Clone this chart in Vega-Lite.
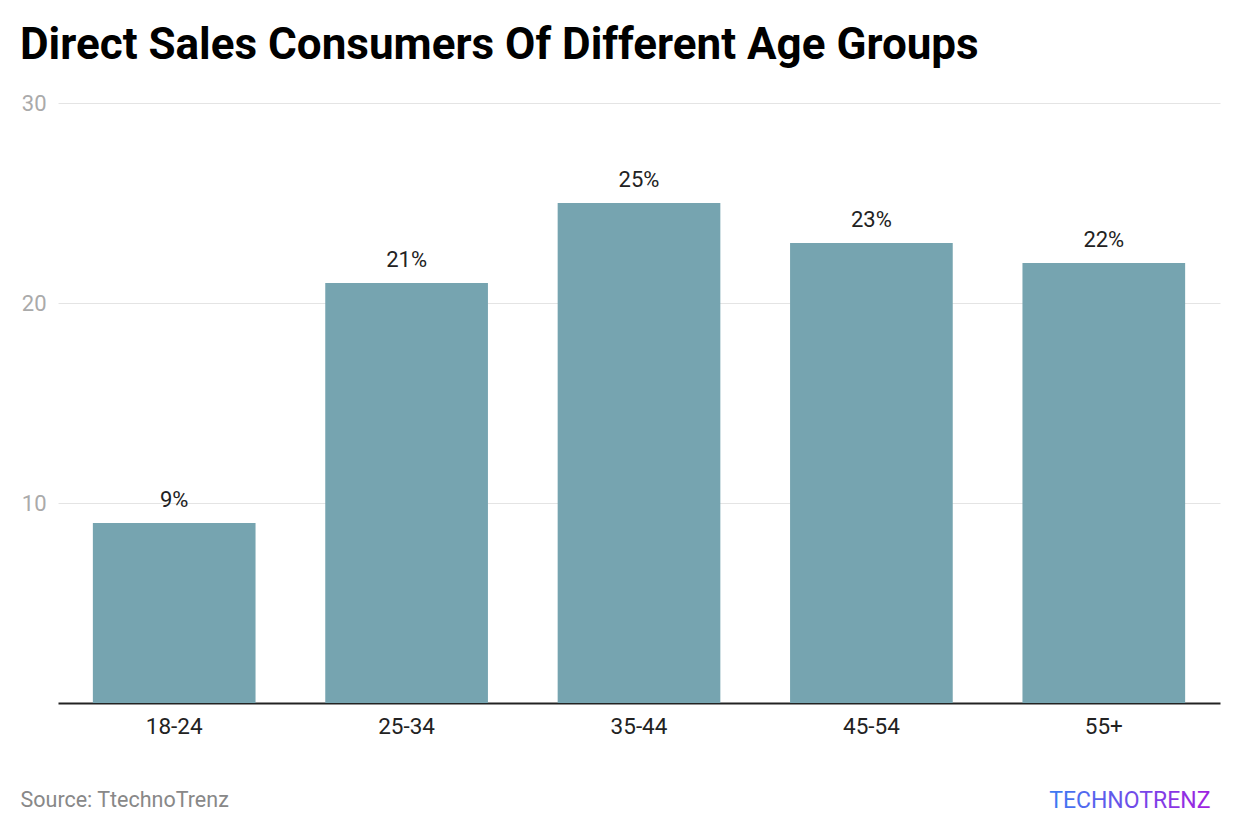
{
  "$schema": "https://vega.github.io/schema/vega-lite/v6.json",
  "width": 1162,
  "height": 600,
  "autosize": {"type": "none"},
  "padding": {"left": 58, "top": 103, "right": 20, "bottom": 131},
  "background": "white",
  "config": {
    "font": "Roboto",
    "view": {"stroke": null}
  },
  "title": {
    "text": "Direct Sales Consumers Of Different Age Groups",
    "anchor": "start",
    "frame": "group",
    "dx": -38,
    "offset": 24,
    "fontSize": 44,
    "fontWeight": "bold",
    "color": "#000000",
    "font": "Roboto"
  },
  "data": {
    "values": [
      {"age": "18-24", "share": 9},
      {"age": "25-34", "share": 21},
      {"age": "35-44", "share": 25},
      {"age": "45-54", "share": 23},
      {"age": "55+", "share": 22}
    ]
  },
  "encoding": {
    "x": {
      "field": "age",
      "type": "nominal",
      "sort": null,
      "scale": {"paddingInner": 0.3, "paddingOuter": 0.15},
      "axis": {
        "title": "Source: TtechnoTrenz",
        "titleAnchor": "start",
        "titleAlign": "left",
        "titleX": -38,
        "titleY": 97,
        "titleBaseline": "middle",
        "titleFontSize": 21.5,
        "titleFontWeight": "normal",
        "titleColor": "#888888",
        "labelAngle": 0,
        "labelFontSize": 22.5,
        "labelColor": "#222222",
        "labelPadding": 12,
        "ticks": false,
        "domainColor": "#222222",
        "domainWidth": 2,
        "grid": false
      }
    },
    "y": {
      "field": "share",
      "type": "quantitative",
      "scale": {"domain": [0, 30], "nice": false},
      "axis": {
        "title": null,
        "values": [10, 20, 30],
        "labelFontSize": 22,
        "labelColor": "#aaaaaa",
        "labelPadding": 12,
        "ticks": false,
        "domain": false,
        "gridColor": "#e4e4e4",
        "gridWidth": 1
      }
    }
  },
  "layer": [
    {
      "mark": {"type": "bar", "color": "#76A4B0"}
    },
    {
      "transform": [{"calculate": "datum.share + '%'", "as": "lbl"}],
      "mark": {"type": "text", "baseline": "bottom", "dy": -11, "fontSize": 22, "color": "#222222"},
      "encoding": {
        "text": {"field": "lbl", "type": "nominal"}
      }
    },
    {
      "data": {"values": [{"logo": "TECHNOTRENZ", "age": "55+", "pos": -4.9}]},
      "mark": {
        "type": "text",
        "fontSize": 23,
        "fontWeight": "normal",
        "dx": 26,
        "baseline": "middle",
        "fill": {
          "gradient": "linear",
          "x1": 0, "x2": 1, "y1": 0, "y2": 0,
          "stops": [{"offset": 0, "color": "#3b7cf2"}, {"offset": 1, "color": "#a020e0"}]
        }
      },
      "encoding": {
        "x": {"field": "age", "type": "nominal"},
        "y": {"field": "pos", "type": "quantitative"},
        "text": {"field": "logo"}
      }
    }
  ]
}
